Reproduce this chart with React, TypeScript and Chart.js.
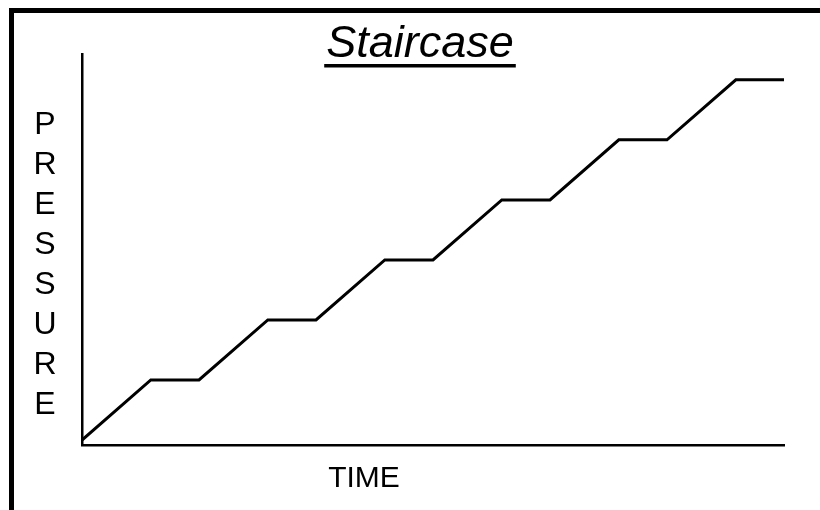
import React, { useEffect, useRef } from "react";
import { Chart, registerables } from "chart.js";

Chart.register(...registerables);

const chartTitle = "Staircase";
const yAxisLabel = "PRESSURE";
const xAxisLabel = "TIME";
const timeValues = [0, 10, 17, 27, 34, 44, 51, 61, 68, 78, 85, 95, 102];
const pressureValues = [0, 1, 1, 2, 2, 3, 3, 4, 4, 5, 5, 6, 6];

const FONT = "'Liberation Sans', Arial, Helvetica, sans-serif";

const decorPlugin = {
  id: "decor",
  beforeDraw(chart: any) {
    const ctx = chart.ctx;
    ctx.save();
    ctx.fillStyle = "#ffffff";
    ctx.fillRect(0, 0, chart.width, chart.height);
    ctx.strokeStyle = "#000000";
    ctx.lineWidth = 5;
    ctx.strokeRect(11.5, 10.5, 1000, 1000);
    ctx.restore();
  },
  afterDraw(chart: any) {
    const ctx = chart.ctx;
    const area = chart.chartArea;
    ctx.save();
    ctx.fillStyle = "#000000";
    // Title
    ctx.font = `italic 45px ${FONT}`;
    ctx.textAlign = "center";
    ctx.textBaseline = "alphabetic";
    const cx = 420;
    ctx.fillText(chartTitle, cx, 57);
    const w = ctx.measureText(chartTitle).width;
    ctx.fillRect(cx - w / 2 - 2, 64, w + 4, 3.5);
    // Y label stacked
    ctx.font = `32px ${FONT}`;
    const letters = yAxisLabel.split("");
    letters.forEach((ch, i) => {
      ctx.fillText(ch, 45, 134 + 40 * i);
    });
    // X label
    ctx.font = `30px ${FONT}`;
    ctx.fillText(xAxisLabel, (area.left + area.right) / 2 - 69, 487);
    ctx.restore();
  },
};

export default function App() {
  const ref = useRef<HTMLCanvasElement | null>(null);
  useEffect(() => {
    if (!ref.current) return;
    const chart = new Chart(ref.current, {
      type: "line",
      data: {
        datasets: [
          {
            data: timeValues.map((t, i) => ({ x: t, y: pressureValues[i] })),
            borderColor: "#000000",
            borderWidth: 3,
            pointRadius: 0,
            tension: 0,
            fill: false,
          },
        ],
      },
      options: {
        responsive: false,
        animation: false,
        devicePixelRatio: 1,
        layout: { padding: { left: 82, right: 36, top: 54, bottom: 65 } },
        plugins: {
          legend: { display: false },
          title: { display: false },
          tooltip: { enabled: false },
        },
        scales: {
          x: {
            type: "linear",
            min: 0,
            max: 102,
            ticks: { display: false },
            grid: { display: false, drawTicks: false, tickLength: 0 },
            border: { display: true, color: "#000000", width: 2.5 },
          },
          y: {
            type: "linear",
            min: -0.083,
            max: 6.43,
            ticks: { display: false },
            grid: { display: false, drawTicks: false, tickLength: 0 },
            border: { display: true, color: "#000000", width: 2.5 },
          },
        },
      },
      plugins: [decorPlugin],
    });
    return () => chart.destroy();
  }, []);
  return (
    <div style={{ position: "fixed", left: 0, top: 0, width: 820, height: 510 }}>
      <canvas ref={ref} width={820} height={510} style={{ display: "block" }} />
    </div>
  );
}
